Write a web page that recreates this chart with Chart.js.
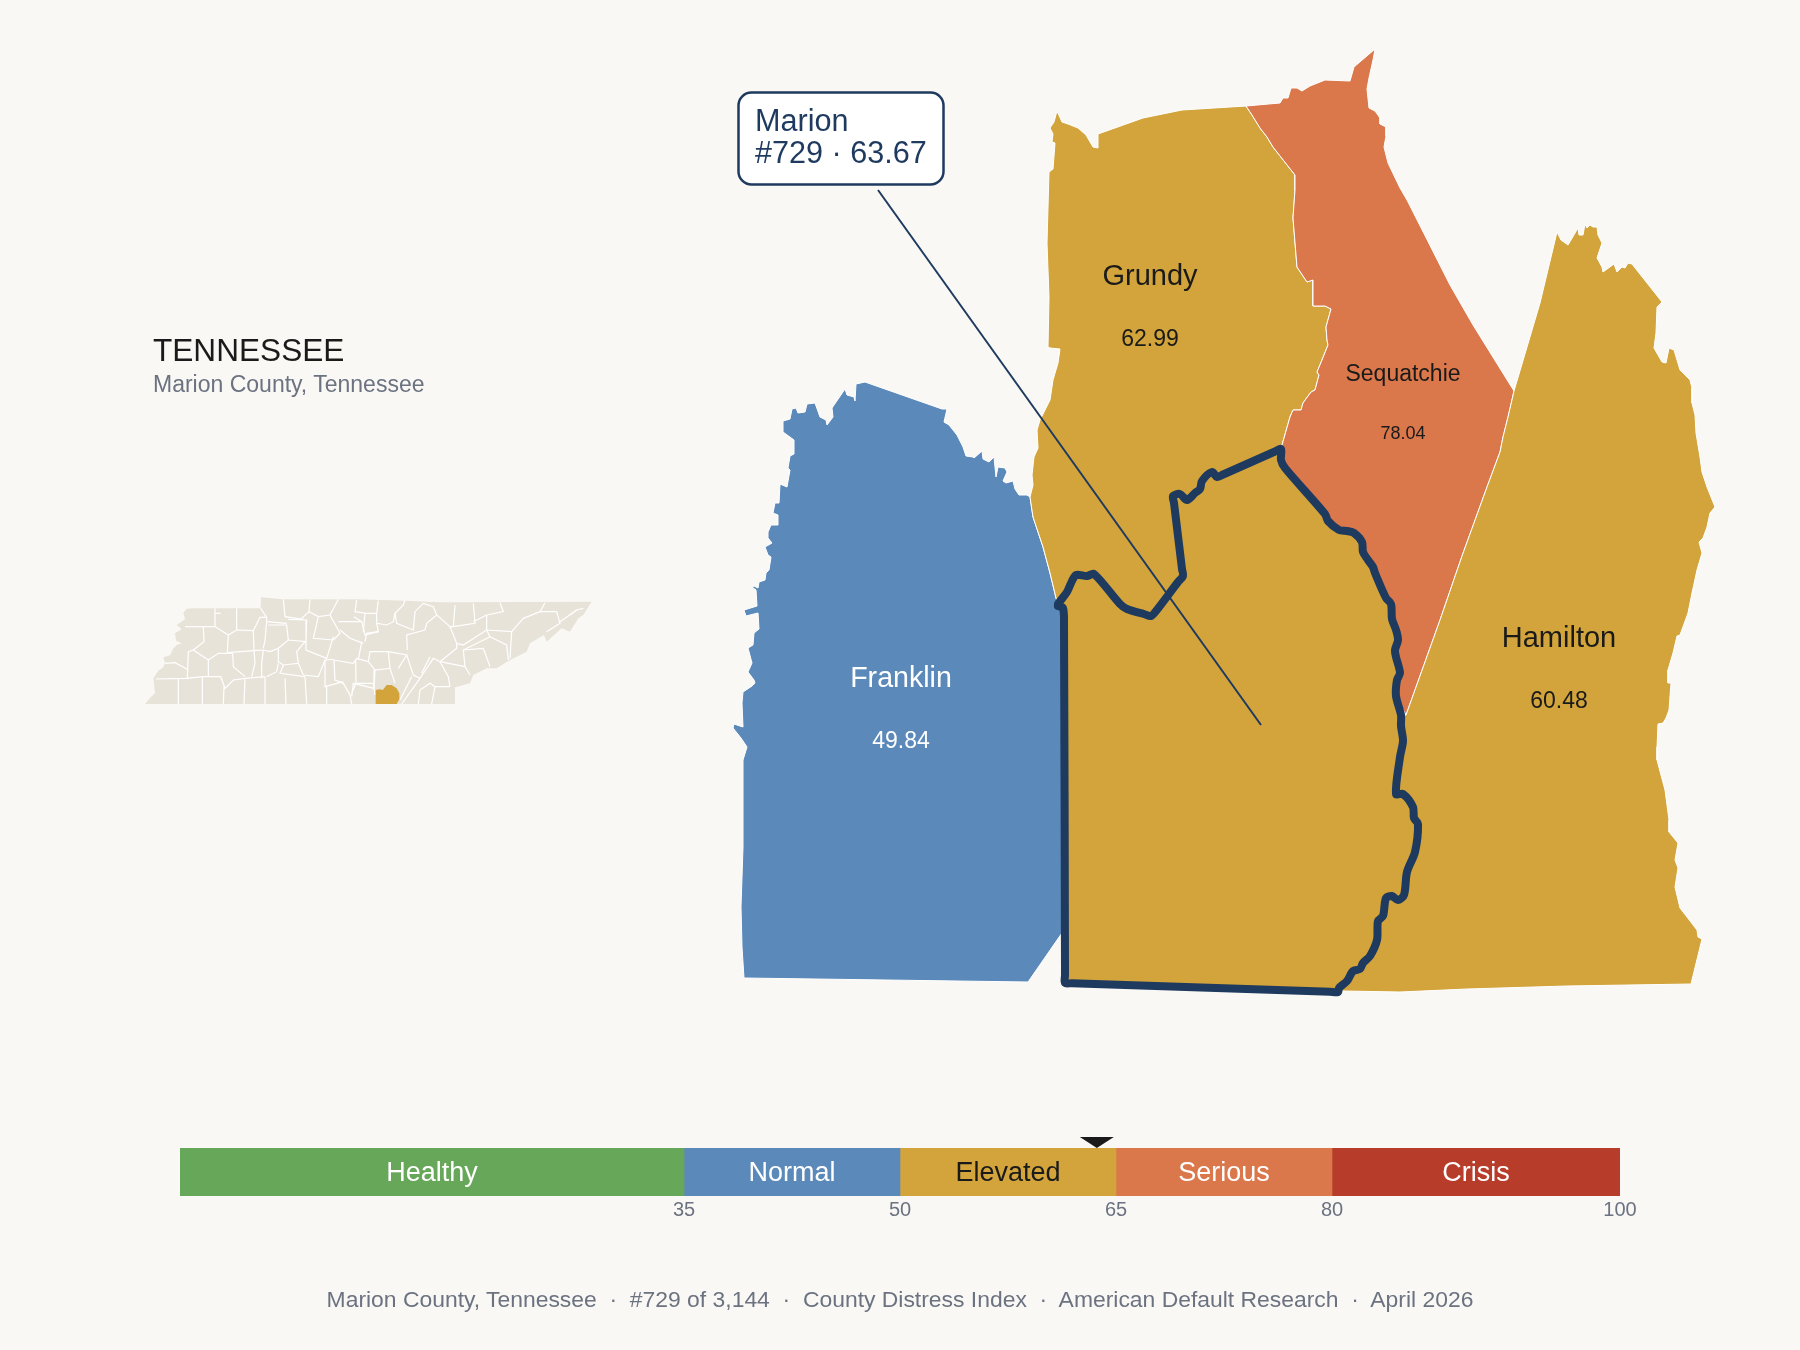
<!DOCTYPE html>
<html><head><meta charset="utf-8">
<script src="https://cdn.jsdelivr.net/npm/chart.js@4"></script>
<style>
html,body{margin:0;padding:0;background:#FAF8F5;width:1800px;height:1350px;overflow:hidden;font-family:"Liberation Sans",Arial,sans-serif}
canvas{position:absolute;display:block}
.t{position:absolute;line-height:1;white-space:pre}
</style></head><body>
<canvas id="map" width="1800" height="1350" style="left:0;top:0"></canvas>
<canvas id="locator" width="480" height="130" style="left:130px;top:580px"></canvas>
<canvas id="gauge" width="1520" height="104" style="left:140px;top:1120px"></canvas>
<div class="t" style="left:153px;top:334.5px;font-size:31.6px;color:#1a1a1a">TENNESSEE</div>
<div class="t" style="left:153px;top:373px;font-size:23px;color:#6B7280">Marion County, Tennessee</div>
<div class="t" style="left:0;width:1800px;text-align:center;top:1288px;font-size:22.9px;color:#6B7280">Marion County, Tennessee  ·  #729 of 3,144  ·  County Distress Index  ·  American Default Research  ·  April 2026</div>
<script>
// ---------- data ----------
const bandNames = ['Healthy','Normal','Elevated','Serious','Crisis'];
const bandWidths = [35,15,15,15,20];
const bandTicks = [35,50,65,80,100];
const bandColors = ['#67A75A','#5B89B9','#D2A43B','#DA774B','#B83C2A'];
const bandTextColors = ['#ffffff','#ffffff','#1a1a1a','#ffffff','#ffffff'];
const marionScore = 63.67;
const marionCallout = ['Marion','#729 · 63.67'];
const neighbourNames = ['Franklin','Grundy','Sequatchie','Hamilton'];
const neighbourScores = ['49.84','62.99','78.04','60.48'];
const neighbourLabelAt = [[901,687,748],[1150,285,346],[1403,381,439],[1559,647,708]];
const neighbourNameSize = [28.6,29,23,29];
const neighbourScoreSize = [23,23,18,23];
const leaderLine = [[878,190],[1261,725]];

const marionWestSouth = [[1058,606],[1063,608],[1064,623],[1065,975],[1065,983],[1072,983.2],[1330,991.7]];
const marionEastLower = [[1338,992],[1339,988],[1347,981],[1353,971],[1360,969],[1363,963],[1370,956],[1377,940],[1378,921],[1383,916],[1386,898],[1392,896],[1398,900],[1404,895],[1407,872],[1415,852],[1418,824],[1414,818],[1413,807],[1403,794],[1396,794],[1400,757],[1403,741],[1401,726],[1401,715]];
const marionEastUpper = [[1396,696],[1397,680],[1400,673],[1396,657],[1395,650],[1398,640],[1396,630],[1392,619],[1391,604],[1386,598],[1375,573],[1373,567],[1368,560],[1363,552],[1362,542],[1354,533],[1347,531],[1339,530],[1328,521],[1325,514],[1285,468],[1281,460],[1281,449]];
const marionNorth = [[1275,451.5],[1222,475],[1217,477],[1212,472],[1202,481],[1200,489],[1195,493],[1187,500],[1180,494],[1173,496],[1174,503],[1182,569],[1183,576],[1178,582],[1156,611],[1151,616],[1144,614],[1127,609],[1120,604],[1094,574],[1087,576],[1076,575],[1072,581],[1067,592],[1058,604]];

const franklinOutline = [[856,384],[865,382],[942,409],[947,409],[944,422],[949,425],[957,435],[963,447],[966,456],[973,457],[974,458],[982,451],[983,459],[989,462],[994,457],[996,477],[998,467],[1005,468],[1007,472],[1003,481],[1006,483],[1013,481],[1015,489],[1019,495],[1027,495],[1030,497],[1033,517],[1043,547],[1050,573],[1056,598],[1064,620],[1064,930],[1028,982],[744,978],[742,947],[741,907],[743,847],[743,760],[747,747],[741,738],[733,728],[734,724],[743,727],[742,703],[743,692],[752,686],[755,683],[754,680],[748,672],[752,663],[748,648],[753,645],[754,633],[759,629],[758,613],[746,616],[744,610],[757,606],[756,590],[752,587],[754,586],[758,588],[759,582],[765,580],[766,573],[769,570],[771,557],[768,555],[765,547],[772,543],[768,538],[768,532],[771,525],[778,525],[778,515],[773,513],[775,503],[779,503],[780,484],[787,487],[790,470],[788,468],[790,456],[794,454],[794,440],[783,432],[783,421],[790,419],[792,409],[796,408],[798,413],[805,412],[807,404],[815,403],[820,417],[826,420],[827,425],[833,417],[832,408],[845,389],[847,395],[854,397],[855,401]];
const grundyNorth = [[1057,111],[1062,122],[1068,124],[1078,128],[1086,135],[1093,147],[1098,148],[1098,134],[1143,118],[1182,110]];
const grundySequatchie = [[1246,106],[1252,115],[1260,128],[1267,137],[1273,147],[1295,175],[1295,190],[1293,218],[1297,267],[1307,282],[1313,280],[1313,306],[1325,306],[1331,309],[1326,327],[1327,340],[1328,345],[1322,360],[1317,372],[1319,375],[1315,390],[1311,392],[1303,403],[1301,410],[1293,410],[1290,417],[1282,445]];
const grundyWest = [[1056,598],[1050,573],[1043,547],[1033,517],[1030,497],[1033,485],[1032,475],[1034,457],[1038,448],[1037,430],[1040,420],[1050,400],[1053,380],[1058,363],[1060,349],[1050,348],[1048,347],[1049,297],[1047,243],[1049,172],[1053,169],[1055,143],[1052,142],[1053,134],[1050,128],[1054,122]];
const sequatchieTop = [[1280,103],[1283,98],[1288,98],[1291,88],[1297,88],[1302,91],[1310,86],[1325,80],[1350,81],[1354,67],[1375,49],[1373,60],[1369,78],[1367,89],[1369,108],[1375,111],[1380,118],[1380,124],[1386,127],[1386,136],[1384,147],[1388,163],[1400,188],[1407,200],[1450,285],[1473,325]];
const sequatchieHamilton = [[1514,391],[1508,417],[1503,437],[1500,452],[1487,487],[1462,556],[1440,620],[1406,715]];
const hamiltonOuter = [[1540,303],[1557,232],[1561,240],[1568,245],[1578,228],[1579,235],[1583,235],[1585,224],[1587,228],[1590,225],[1593,227],[1597,227],[1598,235],[1602,243],[1597,258],[1602,267],[1603,272],[1614,264],[1617,272],[1622,267],[1625,268],[1628,263],[1632,264],[1662,302],[1657,307],[1656,333],[1654,348],[1662,362],[1666,363],[1669,348],[1674,350],[1680,370],[1690,380],[1692,388],[1692,403],[1695,415],[1696,433],[1700,457],[1702,472],[1707,487],[1715,507],[1710,513],[1707,527],[1703,538],[1699,542],[1702,553],[1697,570],[1692,593],[1688,613],[1680,635],[1677,636],[1673,653],[1668,670],[1668,683],[1671,683],[1669,710],[1666,718],[1663,723],[1658,724],[1657,747],[1657,760],[1665,790],[1669,820],[1669,832],[1678,843],[1675,860],[1678,868],[1675,887],[1680,908],[1697,930],[1698,937],[1702,939],[1691,984],[1567,986],[1467,989],[1400,992],[1343,991]];

const stateOutline = [[45,372],[62,352],[75,340],[70,295],[85,272],[100,262],[105,248],[100,232],[120,226],[130,205],[140,195],[155,190],[138,182],[135,160],[155,148],[140,135],[165,118],[160,98],[170,86],[190,85],[392,85],[393,52],[460,58],[680,58],[830,62],[905,66],[960,67],[1385,65],[1360,105],[1345,115],[1320,155],[1295,145],[1250,185],[1242,165],[1200,190],[1190,215],[1140,240],[1100,265],[1070,265],[1030,285],[1020,310],[975,322],[975,372]];
const stateMarion = [[737,330],[750,328],[758,330],[770,315],[785,315],[800,325],[808,340],[808,358],[800,372],[737,372]];
const countyLines = [
[[255,85],[255,140],[295,165]],[[320,85],[320,150]],[[272,100],[255,100]],[[165,140],[255,140]],
[[220,140],[222,185],[190,210],[175,215],[172,295]],[[295,165],[292,218]],[[295,165],[320,150],[370,152]],[[292,218],[370,212]],
[[190,210],[235,240],[265,220],[308,220]],[[235,240],[235,290]],[[105,250],[135,248],[172,268]],
[[78,297],[170,295],[217,290],[272,290],[285,325],[310,300],[345,295],[405,290]],
[[145,295],[145,372]],[[217,290],[217,372]],[[282,320],[280,372]],[[345,295],[342,372]],[[405,290],[405,372]],[[465,295],[468,372]],[[525,290],[530,372]],[[590,320],[590,372]],
[[308,220],[310,260],[345,290]],[[372,212],[375,250],[365,290]],[[370,152],[372,212],[400,210],[420,215],[445,205]],[[370,152],[390,112],[410,112]],
[[392,85],[410,112],[410,125],[470,130]],[[460,58],[465,110],[520,118]],[[540,58],[537,95],[515,115]],[[537,95],[565,110],[550,175],[610,180]],
[[625,58],[600,105],[565,110]],[[600,105],[630,160],[610,180]],[[672,110],[695,125]],[[625,125],[695,125],[705,165],[745,155]],[[630,150],[660,175],[700,190]],
[[745,62],[740,100]],[[475,118],[530,120],[528,185],[475,180],[445,205]],[[415,135],[470,135],[475,180]],[[410,125],[405,180],[400,205]],
[[528,185],[528,210],[590,235],[610,170]],[[445,205],[445,245],[460,255],[505,250],[500,215],[525,185]],[[505,250],[520,285],[565,290],[585,240],[610,238]],
[[400,210],[395,250],[395,295]],[[445,250],[440,275],[410,290]],[[460,255],[450,280],[525,290]],[[612,240],[615,300],[640,310],[660,345],[665,372]],
[[610,240],[670,250],[680,235],[715,245]],[[585,240],[585,320],[640,305]],[[677,240],[678,310],[665,340]],[[678,310],[730,310],[735,345]],[[695,185],[685,240]],
[[680,60],[675,95],[710,100],[740,100],[740,130],[770,135],[790,125],[795,100],[820,75],[825,60]],[[795,100],[800,130],[850,150],[855,95],[880,70],[910,80],[920,105],[960,140]],
[[920,105],[890,130],[885,150],[830,165],[832,210]],[[740,130],[745,155],[710,160],[705,185]],[[705,100],[700,155]],[[975,75],[970,140],[960,140],[980,190]],
[[1030,70],[1035,130],[970,140]],[[1030,125],[1070,105],[1120,95],[1110,68]],[[1070,105],[1070,150],[1000,195],[980,190]],[[1070,150],[1145,155],[1180,115],[1230,95],[1245,68]],
[[1230,95],[1280,95],[1290,130],[1250,155]],[[1290,125],[1340,90],[1360,85]],[[1320,105],[1340,90]],[[1080,170],[1130,195],[1135,240]],[[1145,155],[1140,235]],
[[1070,150],[1080,170],[1000,210],[1005,260],[1020,285]],[[1000,210],[1060,205],[1080,260]],[[930,245],[980,205],[980,190]],[[930,245],[955,290],[960,320]],[[930,245],[1005,260]],
[[930,245],[910,235],[870,295],[850,285],[830,225]],[[900,230],[875,280]],[[960,320],[915,320],[905,372]],[[915,320],[900,310],[870,330],[865,372]],[[845,290],[810,360]],[[870,295],[815,372]],
[[732,325],[670,310],[665,350]],[[775,215],[830,225],[805,265]],[[775,215],[720,215],[715,245],[735,270],[780,265],[775,215]],[[780,265],[795,310]],[[735,270],[732,325]]
];

// ---------- colours ----------
const NAVY='#1E3A5F', GOLD='#D2A43B', BLUE='#5B89B9', ORANGE='#DA774B', BEIGE='#E8E3D9', INK='#1a1a1a';
const FONT='"Liberation Sans",Arial,sans-serif';

const pts = a => a.map(([x,y])=>({x,y}));
const rev = a => a.slice().reverse();
const closed = a => pts([...a,a[0]]);
const poly = (outline,fill,order,extra={}) => ({type:'scatter',data:closed(outline),showLine:true,fill:'shape',backgroundColor:fill,borderColor:'#ffffff',borderWidth:1,pointRadius:0,tension:0,order,borderJoinStyle:'round',...extra});

const grundyOutline=[...grundyNorth,...grundySequatchie,...marionNorth,...grundyWest];
const sequatchieOutline=[...sequatchieTop,...sequatchieHamilton,...marionEastUpper,...rev(grundySequatchie)];
const hamiltonOutline=[...hamiltonOuter,...marionEastLower,...rev(sequatchieHamilton)];
const marionOutline=[...marionWestSouth,...marionEastLower,...marionEastUpper,...marionNorth];

const mapLabels={id:'mapLabels',afterDatasetsDraw(c){
  const g=c.ctx,x=c.scales.x,y=c.scales.y;
  g.save();g.textAlign='center';g.textBaseline='alphabetic';
  neighbourNames.forEach((n,i)=>{
    const [cx,ny,vy]=neighbourLabelAt[i];
    g.fillStyle=n==='Franklin'?'#ffffff':INK;
    g.font=neighbourNameSize[i]+'px '+FONT;g.fillText(n,x.getPixelForValue(cx),y.getPixelForValue(ny));
    g.font=neighbourScoreSize[i]+'px '+FONT;g.fillText(neighbourScores[i],x.getPixelForValue(cx),y.getPixelForValue(vy));
  });
  // callout
  const l=x.getPixelForValue(738.5),t=y.getPixelForValue(92.5),w=205,h=92;
  g.beginPath();g.roundRect(l,t,w,h,13);g.fillStyle='#ffffff';g.fill();g.lineWidth=2.5;g.strokeStyle=NAVY;g.stroke();
  g.textAlign='left';g.fillStyle=NAVY;g.font='30.6px '+FONT;
  g.fillText(marionCallout[0],x.getPixelForValue(755),y.getPixelForValue(131));
  g.fillText(marionCallout[1],x.getPixelForValue(755),y.getPixelForValue(163));
  g.restore();
}};

new Chart(document.getElementById('map'),{type:'scatter',data:{datasets:[
  poly(franklinOutline,BLUE,6),
  poly(grundyOutline,GOLD,5),
  poly(sequatchieOutline,ORANGE,4),
  poly(hamiltonOutline,GOLD,3),
  poly(marionOutline,GOLD,2,{borderColor:NAVY,borderWidth:8,borderCapStyle:'round',tension:0.3}),
  {type:'scatter',data:pts(leaderLine),showLine:true,fill:false,borderColor:NAVY,borderWidth:2,pointRadius:0,order:1}
]},options:{responsive:false,animation:false,devicePixelRatio:1,layout:{padding:0},
  plugins:{legend:{display:false},tooltip:{enabled:false},title:{display:false}},
  scales:{x:{type:'linear',display:false,min:0,max:1800},y:{type:'linear',display:false,min:0,max:1350,reverse:true}}},
  plugins:[mapLabels]});

new Chart(document.getElementById('locator'),{type:'scatter',data:{datasets:[
  poly(stateMarion,GOLD,0,{borderWidth:0,borderColor:GOLD}),
  ...countyLines.map(l=>({type:'scatter',data:pts(l),showLine:true,fill:false,borderColor:'#ffffff',borderWidth:1.2,pointRadius:0,order:1})),
  poly(stateOutline,BEIGE,2,{borderWidth:0,borderColor:BEIGE})
]},options:{responsive:false,animation:false,devicePixelRatio:1,layout:{padding:0},
  plugins:{legend:{display:false},tooltip:{enabled:false}},
  scales:{x:{type:'linear',display:false,min:0,max:1440},y:{type:'linear',display:false,min:0,max:390,reverse:true}}}});

const gaugeMarks={id:'gaugeMarks',afterDatasetsDraw(c){
  const g=c.ctx,x=c.scales.x,a=c.chartArea;
  g.save();g.textAlign='center';g.textBaseline='alphabetic';g.font='27px '+FONT;
  let s=0;
  bandNames.forEach((n,i)=>{const m=s+bandWidths[i]/2;s+=bandWidths[i];
    g.fillStyle=bandTextColors[i];g.fillText(n,x.getPixelForValue(m),a.top+33);});
  const px=x.getPixelForValue(marionScore);
  g.fillStyle=INK;g.beginPath();g.moveTo(px-17,a.top-11);g.lineTo(px+17,a.top-11);g.lineTo(px,a.top);g.closePath();g.fill();
  g.restore();
}};
new Chart(document.getElementById('gauge'),{type:'bar',data:{labels:['Distress'],
  datasets:bandNames.map((n,i)=>({label:n,data:[bandWidths[i]],backgroundColor:bandColors[i],borderWidth:0,barPercentage:1,categoryPercentage:1}))},
  options:{indexAxis:'y',responsive:false,animation:false,devicePixelRatio:1,layout:{padding:{left:40,right:40,top:28,bottom:0}},
  plugins:{legend:{display:false},tooltip:{enabled:false}},
  scales:{y:{stacked:true,display:false},
    x:{stacked:true,type:'linear',min:0,max:100,afterBuildTicks(s){s.ticks=bandTicks.map(v=>({value:v}));},
      grid:{display:false,drawTicks:false},border:{display:false},
      ticks:{autoSkip:false,maxRotation:0,padding:2,color:'#6B7280',font:{size:20,family:FONT}}}}},
  plugins:[gaugeMarks]});
</script>
</body></html>
